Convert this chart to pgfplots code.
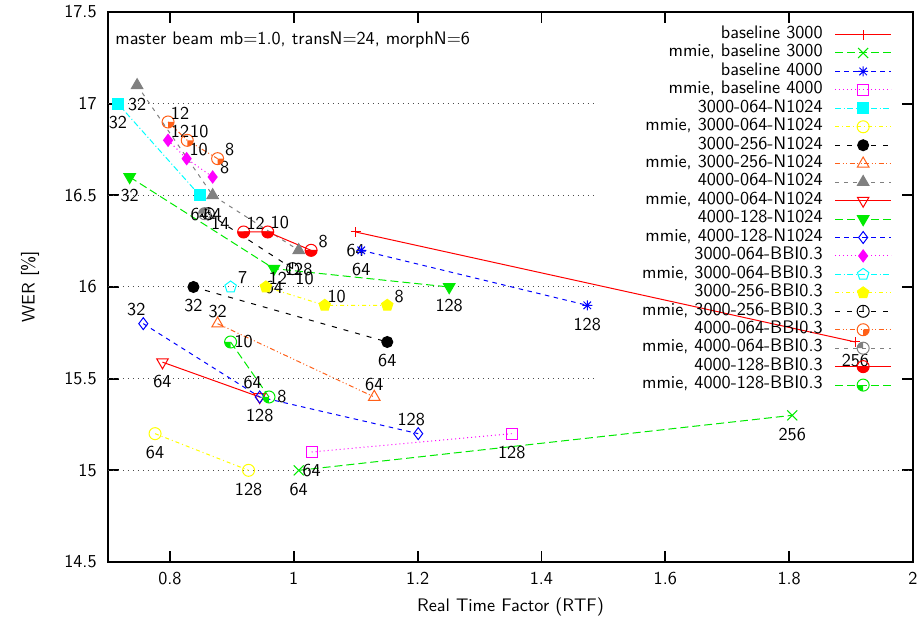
\documentclass[border=0pt]{standalone}
\usepackage{pgfplots}
\pgfplotsset{compat=1.18}
\renewcommand{\familydefault}{\sfdefault}
\definecolor{gRed}{RGB}{255,0,0}
\definecolor{gGreen}{RGB}{0,235,0}
\definecolor{gBlue}{RGB}{0,0,255}
\definecolor{gMag}{RGB}{255,0,255}
\definecolor{gCyan}{RGB}{0,255,255}
\definecolor{gYel}{RGB}{255,255,0}
\definecolor{gOra}{RGB}{255,96,24}
\definecolor{gGrey}{RGB}{128,128,128}
\pgfdeclareplotmark{gplus}{%
  \pgfpathmoveto{\pgfpoint{-\pgfplotmarksize}{0pt}}\pgfpathlineto{\pgfpoint{\pgfplotmarksize}{0pt}}%
  \pgfpathmoveto{\pgfpoint{0pt}{-\pgfplotmarksize}}\pgfpathlineto{\pgfpoint{0pt}{\pgfplotmarksize}}%
  \pgfusepathqstroke}
\pgfdeclareplotmark{gcross}{%
  \pgfpathmoveto{\pgfpoint{-\pgfplotmarksize}{-\pgfplotmarksize}}\pgfpathlineto{\pgfpoint{\pgfplotmarksize}{\pgfplotmarksize}}%
  \pgfpathmoveto{\pgfpoint{-\pgfplotmarksize}{\pgfplotmarksize}}\pgfpathlineto{\pgfpoint{\pgfplotmarksize}{-\pgfplotmarksize}}%
  \pgfusepathqstroke}
\pgfdeclareplotmark{gstar}{%
  \pgfpathmoveto{\pgfpoint{-\pgfplotmarksize}{0pt}}\pgfpathlineto{\pgfpoint{\pgfplotmarksize}{0pt}}%
  \pgfpathmoveto{\pgfpoint{0pt}{-\pgfplotmarksize}}\pgfpathlineto{\pgfpoint{0pt}{\pgfplotmarksize}}%
  \pgfpathmoveto{\pgfpoint{-0.75\pgfplotmarksize}{-0.75\pgfplotmarksize}}\pgfpathlineto{\pgfpoint{0.75\pgfplotmarksize}{0.75\pgfplotmarksize}}%
  \pgfpathmoveto{\pgfpoint{-0.75\pgfplotmarksize}{0.75\pgfplotmarksize}}\pgfpathlineto{\pgfpoint{0.75\pgfplotmarksize}{-0.75\pgfplotmarksize}}%
  \pgfusepathqstroke}
\pgfdeclareplotmark{itri}{%
  \pgfpathmoveto{\pgfpointpolar{270}{\pgfplotmarksize}}%
  \pgfpathlineto{\pgfpointpolar{30}{\pgfplotmarksize}}%
  \pgfpathlineto{\pgfpointpolar{150}{\pgfplotmarksize}}%
  \pgfpathclose\pgfusepathqstroke}
\pgfdeclareplotmark{itri*}{%
  \pgfpathmoveto{\pgfpointpolar{270}{\pgfplotmarksize}}%
  \pgfpathlineto{\pgfpointpolar{30}{\pgfplotmarksize}}%
  \pgfpathlineto{\pgfpointpolar{150}{\pgfplotmarksize}}%
  \pgfpathclose\pgfusepathqfillstroke}
\pgfdeclareplotmark{cV}{%
  \pgfpathcircle{\pgfpointorigin}{\pgfplotmarksize}%
  \pgfpathmoveto{\pgfpointorigin}\pgfpathlineto{\pgfpoint{0pt}{\pgfplotmarksize}}%
  \pgfusepathqstroke}
\pgfdeclareplotmark{cBR}{%
  \pgfpathmoveto{\pgfpointorigin}\pgfpathlineto{\pgfpoint{\pgfplotmarksize}{0pt}}%
  \pgfpatharc{0}{-90}{\pgfplotmarksize}\pgfpathclose\pgfusepathqfill
  \pgfpathcircle{\pgfpointorigin}{\pgfplotmarksize}\pgfusepathqstroke}
\pgfdeclareplotmark{cTL}{%
  \pgfpathmoveto{\pgfpointorigin}\pgfpathlineto{\pgfpoint{0pt}{\pgfplotmarksize}}%
  \pgfpatharc{90}{180}{\pgfplotmarksize}\pgfpathclose\pgfusepathqfill
  \pgfpathcircle{\pgfpointorigin}{\pgfplotmarksize}\pgfusepathqstroke}
\pgfdeclareplotmark{cB}{%
  \pgfpathmoveto{\pgfpoint{\pgfplotmarksize}{0pt}}%
  \pgfpatharc{0}{-180}{\pgfplotmarksize}\pgfpathclose\pgfusepathqfill
  \pgfpathcircle{\pgfpointorigin}{\pgfplotmarksize}%
  \pgfpathmoveto{\pgfpoint{-\pgfplotmarksize}{0pt}}\pgfpathlineto{\pgfpoint{\pgfplotmarksize}{0pt}}%
  \pgfusepathqstroke}
\pgfdeclareplotmark{cBL}{%
  \pgfpathmoveto{\pgfpointorigin}\pgfpathlineto{\pgfpoint{0pt}{-\pgfplotmarksize}}%
  \pgfpatharc{-90}{-180}{\pgfplotmarksize}\pgfpathclose\pgfusepathqfill
  \pgfpathcircle{\pgfpointorigin}{\pgfplotmarksize}\pgfusepathqstroke}
\makeatletter
\newcommand\legmark{%
  \expandafter\in@\expandafter\pgfuseplotmark\expandafter{\tikz@plot@mark}%
  \ifin@ \tikz@plot@mark \else \pgfuseplotmark{\tikz@plot@mark}\fi}
\makeatother
\pgfplotsset{
  lbl/.style 2 args={nodes near coords, point meta=explicit symbolic,
    nodes near coords style={anchor=center, xshift=#1, yshift=#2, text=black, inner sep=0pt}},
  base/.style={line width=0.6pt, mark size=3.3pt, mark options={solid, line width=0.6pt}},
  sRed/.style={base, color=gRed, solid},
  sGreen/.style={base, color=gGreen, dash pattern=on 4.8pt off 2.4pt},
  sBlue/.style={base, color=gBlue, dash pattern=on 2.7pt off 2.7pt},
  sMag/.style={base, color=gMag, dash pattern=on 0.6pt off 1.8pt},
  sCyan/.style={base, color=gCyan, dash pattern=on 3.6pt off 1.5pt on 0.6pt off 1.5pt},
  sYel/.style={base, color=gYel, dash pattern=on 2.4pt off 1.8pt on 0.6pt off 1.8pt},
  sBlack/.style={base, color=black, dash pattern=on 3pt off 4.2pt},
  sOra/.style={base, color=gOra, dash pattern=on 3pt off 1.5pt on 0.6pt off 1.5pt on 0.6pt off 1.5pt},
  sGrey/.style={base, color=gGrey, dash pattern=on 2.4pt off 3pt},
}
\begin{document}
\fontsize{10.9pt}{12pt}\selectfont
\begin{tikzpicture}
\useasboundingbox (-64.8pt,-36.6pt) rectangle (487.2pt,337.2pt);
\begin{axis}[
  at={(0,0)}, anchor=south west,
  scale only axis, width=483pt, height=330pt,
  xmin=0.7, xmax=2, ymin=14.5, ymax=17.5,
  xtick={0.8,1,1.2,1.4,1.6,1.8,2},
  ytick={14.5,15,15.5,16,16.5,17,17.5},
  minor tick num=0, tick align=inside, major tick length=6.6pt,
  every tick/.style={black, line width=1.1pt},
  axis line style={line width=1.1pt},
  /pgf/number format/assume math mode=true,
  yticklabel style={xshift=-3pt},
  xticklabel style={yshift=-2pt},
  xlabel={Real Time Factor (RTF)}, ylabel={WER [\%]},
  x label style={at={(axis description cs:0.5,0)}, anchor=center, yshift=-27pt},
  y label style={at={([xshift=-46.8pt]axis description cs:0,0.5)}, anchor=center},
  legend plot pos=right, legend cell align=right,
  legend image code/.code={\draw[#1, mark=none] (0pt,0pt) -- (33.6pt,0pt);
     \begin{scope}[#1, solid, line width=0.6pt]\pgftransformshift{\pgfpoint{16.8pt}{0pt}}\legmark\end{scope}},
  legend style={at={(axis description cs:0.9739,0.9764)}, anchor=north east,
    draw=none, fill=none, inner sep=0pt, row sep=0pt, column sep=7.2pt,
    nodes={inner sep=0pt, text height=7.8pt, text depth=3.27pt}},
]
\draw[line width=0.6pt, dash pattern=on 0.6pt off 2.4pt, black!70] (axis cs:0.7,15) -- (axis cs:2,15);
\draw[line width=0.6pt, dash pattern=on 0.6pt off 2.4pt, black!70] (axis cs:0.7,15.5) -- (axis cs:1.485,15.5);
\draw[line width=0.6pt, dash pattern=on 0.6pt off 2.4pt, black!70] (axis cs:0.7,16) -- (axis cs:1.485,16);
\draw[line width=0.6pt, dash pattern=on 0.6pt off 2.4pt, black!70] (axis cs:0.7,16.5) -- (axis cs:1.485,16.5);
\draw[line width=0.6pt, dash pattern=on 0.6pt off 2.4pt, black!70] (axis cs:0.7,17) -- (axis cs:1.485,17);
\node[anchor=west, inner sep=0pt] at ([xshift=4.2pt, yshift=-16.8pt]axis description cs:0,1) {master beam mb=1.0, transN=24, morphN=6};

\addplot[sRed, mark=gplus, mark size=3pt, lbl={0pt}{-11.4pt}] table[meta=l, row sep=\\] {x y l\\ 1.10 16.30 64\\ 1.907 15.70 256\\};
\addlegendentry{baseline 3000}
\addplot[sGreen, mark=gcross, mark size=3pt, lbl={0pt}{-11.4pt}] table[meta=l, row sep=\\] {x y l\\ 1.008 15.00 64\\ 1.805 15.30 256\\};
\addlegendentry{mmie, baseline 3000}
\addplot[sBlue, mark=gstar, mark size=3pt, lbl={0pt}{-11.4pt}] table[meta=l, row sep=\\] {x y l\\ 1.109 16.20 64\\ 1.474 15.90 128\\};
\addlegendentry{baseline 4000}
\addplot[sMag, mark=square, lbl={0pt}{-11.4pt}] table[meta=l, row sep=\\] {x y l\\ 1.029 15.10 64\\ 1.352 15.20 128\\};
\addlegendentry{mmie, baseline 4000}
\addplot[sCyan, mark=square*, lbl={0pt}{-11.4pt}] table[meta=l, row sep=\\] {x y l\\ 0.716 17.00 32\\ 0.848 16.50 64\\};
\addlegendentry{3000-064-N1024}
\addplot[sYel, mark=o, mark size=3.6pt, lbl={0pt}{-11.4pt}] table[meta=l, row sep=\\] {x y l\\ 0.776 15.20 64\\ 0.927 15.00 128\\};
\addlegendentry{mmie, 3000-064-N1024}
\addplot[sBlack, mark=*, lbl={0pt}{-11.4pt}] table[meta=l, row sep=\\] {x y l\\ 0.838 16.00 32\\ 1.151 15.70 64\\};
\addlegendentry{3000-256-N1024}
\addplot[sOra, mark=triangle, mark size=4pt, lbl={0pt}{7.5pt}] table[meta=l, row sep=\\] {x y l\\ 0.877 15.80 32\\ 1.130 15.40 64\\};
\addlegendentry{mmie, 3000-256-N1024}
\addplot[sGrey, mark=triangle*, mark size=4pt, lbl={0pt}{-11.4pt}] table[meta=l, row sep=\\] {x y l\\ 0.747 17.10 32\\ 0.869 16.50 64\\ 1.008 16.20 128\\};
\addlegendentry{4000-064-N1024}
\addplot[sRed, mark=itri, mark size=4pt, lbl={0pt}{-11.4pt}] table[meta=l, row sep=\\] {x y l\\ 0.788 15.59 64\\ 0.945 15.40 128\\};
\addlegendentry{mmie, 4000-064-N1024}
\addplot[sGreen, mark=itri*, mark size=4pt, lbl={0pt}{-11.4pt}] table[meta=l, row sep=\\] {x y l\\ 0.735 16.60 32\\ 0.968 16.10 64\\ 1.251 16.00 128\\};
\addlegendentry{4000-128-N1024}
\addplot[sBlue, mark=diamond, mark size=3.6pt, lbl={-4.2pt}{8.4pt}] table[meta=l, row sep=\\] {x y l\\ 0.757 15.80 32\\ 0.945 15.40 64\\ 1.201 15.20 128\\};
\addlegendentry{mmie, 4000-128-N1024}
\addplot[sMag, mark=diamond*, mark size=3.6pt, lbl={7.2pt}{5.4pt}] table[meta=l, row sep=\\] {x y l\\ 0.797 16.80 12\\ 0.827 16.70 10\\ 0.869 16.60 8\\};
\addlegendentry{3000-064-BBI0.3}
\addplot[sCyan, mark=pentagon, mark size=3.6pt, lbl={7.2pt}{5.4pt}] table[meta=l, row sep=\\] {x y l\\ 0.898 16.00 7\\};
\addlegendentry{mmie, 3000-064-BBI0.3}
\addplot[sYel, mark=pentagon*, mark size=3.6pt, lbl={7.2pt}{5.4pt}] table[meta=l, row sep=\\] {x y l\\ 0.955 16.00 12\\ 1.050 15.90 10\\ 1.151 15.90 8\\};
\addlegendentry{3000-256-BBI0.3}
\addplot[sBlack, mark=cV, mark size=3.6pt, lbl={7.2pt}{-6pt}] table[meta=l, row sep=\\] {x y l\\ 0.862 16.40 14\\ 0.998 16.10 10\\};
\addlegendentry{mmie, 3000-256-BBI0.3}
\addplot[sOra, mark=cBR, mark size=3.6pt, lbl={7.2pt}{5.4pt}] table[meta=l, row sep=\\] {x y l\\ 0.797 16.90 12\\ 0.828 16.80 10\\ 0.877 16.70 8\\};
\addlegendentry{4000-064-BBI0.3}
\addplot[sGrey, mark=cTL, mark size=3.6pt] table[row sep=\\] {x y\\ 0.856 16.40\\};
\addlegendentry{mmie, 4000-064-BBI0.3}
\addplot[sRed, mark=cB, mark size=3.6pt, lbl={7.2pt}{5.4pt}] table[meta=l, row sep=\\] {x y l\\ 0.919 16.30 12\\ 0.958 16.30 10\\ 1.028 16.20 8\\};
\addlegendentry{4000-128-BBI0.3}
\addplot[sGreen, mark=cBL, mark size=3.6pt, lbl={7.8pt}{0pt}] table[meta=l, row sep=\\] {x y l\\ 0.898 15.70 10\\ 0.960 15.40 8\\};
\addlegendentry{mmie, 4000-128-BBI0.3}
\end{axis}
\end{tikzpicture}
\end{document}
